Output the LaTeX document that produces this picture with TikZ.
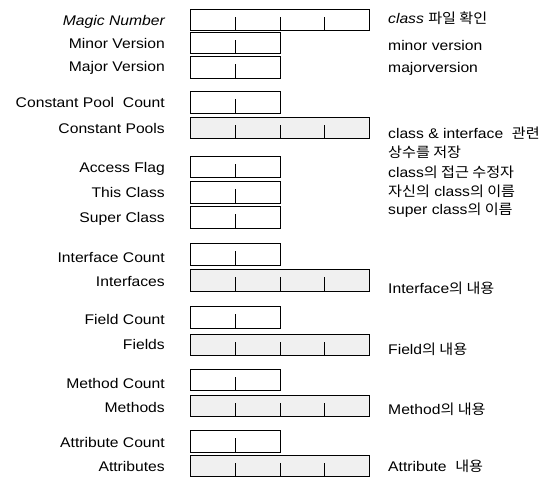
\documentclass[tikz,border=0pt]{standalone}
\usepackage{fontspec}
\setmainfont{Liberation Sans}[FakeStretch=1.12]
\newfontfamily\krfont{Noto Sans CJK KR}[FakeStretch=1.08]
\newcommand{\kr}[1]{{\krfont #1}}
\begin{document}
\begin{tikzpicture}[x=1bp,y=-1bp,
  lbl/.style={anchor=east, font=\fontsize{14bp}{16bp}\selectfont, inner sep=0, text height=10bp, text depth=0bp},
  note/.style={anchor=west, font=\fontsize{14bp}{16bp}\selectfont, inner sep=0, text height=10bp, text depth=0bp},
  cell/.style={draw, line width=0.9pt, inner sep=0, minimum height=21.5bp, anchor=west},
  smallbox/.style={cell, minimum width=90bp,
    path picture={\draw[line width=0.8pt] (path picture bounding box.south) -- ++(0,14bp);}},
  longbox/.style={cell, minimum width=179bp,
    path picture={\foreach \dx in {-44.75,0,44.75} \draw[line width=0.8pt] ([xshift=\dx bp]path picture bounding box.south) -- ++(0,14bp);}},
  pool/.style={longbox, fill=black!6}]
\useasboundingbox (0,0) rectangle (553,477);

% boxes
\node[longbox]  (magic) at (190,20)    {};
\node[smallbox] (minor) at (190,43)    {};
\node[smallbox] (major) at (190,67.5)  {};
\node[smallbox] (cpc)   at (190,102.5) {};
\node[pool]     (cp)    at (190,128)   {};
\node[smallbox] (af)    at (190,167)   {};
\node[smallbox] (tc)    at (190,192.5) {};
\node[smallbox] (sc)    at (190,217.5) {};
\node[smallbox] (ic)    at (190,254.5) {};
\node[pool]     (ifs)   at (190,280.5) {};
\node[smallbox] (fc)    at (190,317.5) {};
\node[pool]     (fld)   at (190,345)   {};
\node[smallbox] (mc)    at (190,380)   {};
\node[pool]     (mth)   at (190,406)   {};
\node[smallbox] (ac)    at (190,441.5) {};
\node[pool]     (att)   at (190,466)   {};

% left labels
\node[lbl] (lmagic) at (165,21)  {\itshape Magic Number};
\node[lbl] (lminor) at (165,44)  {Minor Version};
\node[lbl] (lmajor) at (165,67)  {Major Version};
\node[lbl] (lcpc)   at (165,103) {Constant Pool\ \ Count};
\node[lbl] (lcp)    at (165,129) {Constant Pools};
\node[lbl] (laf)    at (165,168) {Access Flag};
\node[lbl] (ltc)    at (165,193) {This Class};
\node[lbl] (lsc)    at (165,217) {Super Class};
\node[lbl] (lic)    at (165,257) {Interface Count};
\node[lbl] (lifs)   at (165,281) {Interfaces};
\node[lbl] (lfc)    at (165,319) {Field Count};
\node[lbl] (lfld)   at (165,344) {Fields};
\node[lbl] (lmc)    at (165,383) {Method Count};
\node[lbl] (lmth)   at (165,407) {Methods};
\node[lbl] (lac)    at (165,442) {Attribute Count};
\node[lbl] (latt)   at (165,466) {Attributes};

% right notes
\node[note] (nmagic) at (388,19)  {\itshape class\upshape\ \kr{파일 확인}};
\node[note] (nminor) at (388,46)  {minor version};
\node[note] (nmajor) at (388,68)  {majorversion};
\node[note] (ncp1)   at (388,134) {class \& interface\ \ \kr{관련}};
\node[note] (ncp2)   at (388,153) {\kr{상수를 저장}};
\node[note] (naf)    at (388,173) {class\kr{의 접근 수정자}};
\node[note] (ntc)    at (388,192) {\kr{자신의} class\kr{의 이름}};
\node[note] (nsc)    at (388,210) {super class\kr{의 이름}};
\node[note] (nifs)   at (388,288) {Interface\kr{의 내용}};
\node[note] (nfld)   at (388,349) {Field\kr{의 내용}};
\node[note] (nmth)   at (388,409) {Method\kr{의 내용}};
\node[note] (natt)   at (388,466) {Attribute\ \ \kr{내용}};
\end{tikzpicture}
\end{document}
